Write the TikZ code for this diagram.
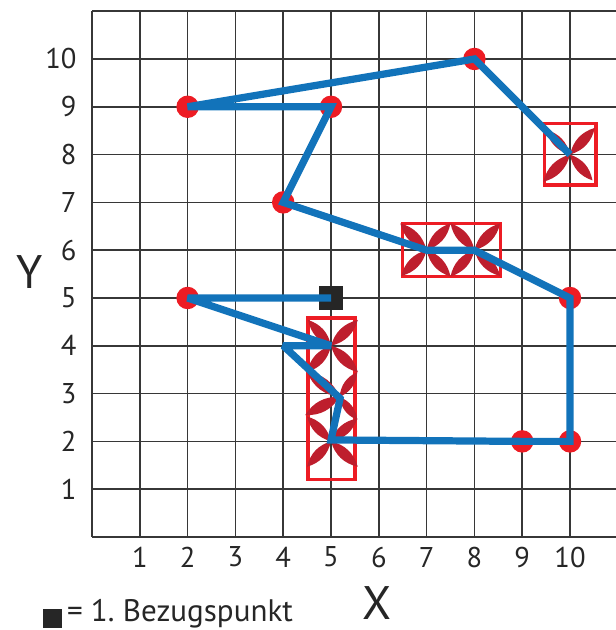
\documentclass[tikz,border=0pt]{standalone}
\usepackage{fontspec}
\setmainfont{PT Sans}
\frenchspacing
\definecolor{lblue}{RGB}{18,115,186}
\definecolor{dred}{RGB}{190,30,45}
\definecolor{rred}{RGB}{237,28,36}
\definecolor{gridc}{RGB}{55,55,55}
\newcommand\myleaf[2]{\fill[dred] (#1) to[bend left=30] (#2) to[bend left=30] (#1);}
\begin{document}
\begin{tikzpicture}[x=1cm,y=1cm,
 gridline/.style={gridc, line width=0.9pt},
 pathline/.style={lblue, line width=4.3pt, line join=miter, miter limit=2},
 reddot/.style={circle, fill=rred, minimum size=0.47cm, inner sep=0pt},
 redbox/.style={draw=rred, line width=2pt},
 ticklabel/.style={font=\fontsize{17}{20}\selectfont, text=black!85},
 legendlabel/.style={font=\fontsize{18.5}{22}\selectfont, text=black!85},
 axislabel/.style={font=\fontsize{28}{32}\selectfont, text=black!85},
]
\useasboundingbox (-1.925,-1.946) rectangle (10.96,11.234);
% grid
\draw[gridline] (0,0) grid (11,11);
% tick labels
\foreach \i in {1,...,10} {
  \node[ticklabel] (xl\i) at (\i,-0.42) {\i};
  \node[ticklabel, anchor=east] (yl\i) at (-0.2,\i) {\i};
}
\node[axislabel] (ylab) at (-1.30,5.54) {Y};
\node[axislabel] (xlab) at (5.96,-1.38) {X};
% legend
\node[fill=black!85, minimum size=0.39cm, inner sep=0pt] (legsq) at (-0.82,-1.70) {};
\node[legendlabel, anchor=base west, inner sep=0pt] (legtxt) at (-0.53,-1.77) {= 1. Bezugspunkt};
% red boxes
\draw[redbox] (9.46,7.36) rectangle (10.54,8.65);
\draw[redbox] (6.5,5.45) rectangle (8.55,6.56);
\draw[redbox] (4.52,1.2) rectangle (5.5,4.58);
% crosses
\coordinate (c1) at (10,8);
\myleaf{c1}{9.5,8.52}\myleaf{c1}{10.52,8.56}\myleaf{c1}{9.44,7.43}\myleaf{c1}{10.47,7.46}
\coordinate (c2) at (7,6);
\myleaf{c2}{6.45,6.56}\myleaf{c2}{7.5,6.56}\myleaf{c2}{6.47,5.46}\myleaf{c2}{7.5,5.45}
\coordinate (c3) at (8,6);
\myleaf{c3}{7.5,6.56}\myleaf{c3}{8.54,6.56}\myleaf{c3}{7.5,5.45}\myleaf{c3}{8.54,5.46}
\coordinate (c4) at (5,4);
\myleaf{c4}{4.52,4.54}\myleaf{c4}{5.56,4.54}\myleaf{c4}{4.5,3.45}\myleaf{c4}{5.56,3.45}
\coordinate (c5) at (5.18,2.93);
\myleaf{c5}{4.5,3.45}\myleaf{c5}{5.55,3.45}\myleaf{c5}{4.46,2.55}\myleaf{c5}{5.55,2.45}
\coordinate (c6) at (5,2);
\myleaf{c6}{4.5,2.52}\myleaf{c6}{5.55,2.48}\myleaf{c6}{4.5,1.47}\myleaf{c6}{5.56,1.47}
% path vertices
\coordinate (v0) at (5,5);
\coordinate (v1) at (2,5);
\coordinate (v2) at (5,4);
\coordinate (v3) at (4,4);
\coordinate (v4) at (5.19,2.9);
\coordinate (v5) at (5,2.03);
\coordinate (v6) at (9,2);
\coordinate (v7) at (10,2);
\coordinate (v8) at (10,5);
\coordinate (v9) at (8,6);
\coordinate (v10) at (7,6);
\coordinate (v11) at (4,7);
\coordinate (v12) at (5,9);
\coordinate (v13) at (2,9);
\coordinate (v14) at (8,10);
\coordinate (v15) at (10,8);
% dots
\foreach \v in {v1,v6,v7,v8,v11,v12,v13,v14} {
  \node[reddot] (dot\v) at (\v) {};
}
% reference square
\node[fill=black!85, minimum size=0.5cm, inner sep=0pt] (sq) at (v0) {};
% blue path
\draw[pathline] (v0) -- (v1) -- (v2) -- (v3) -- (v4) -- (v5) -- (v6) -- (v7) -- (v8)
  -- (v9) -- (v10) -- (v11) -- (v12) -- (v13) -- (v14) -- (v15);
\end{tikzpicture}
\end{document}
